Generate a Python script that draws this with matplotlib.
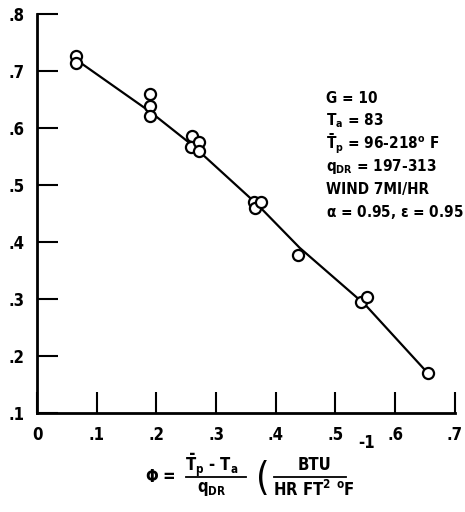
import matplotlib
matplotlib.use("Agg")
import matplotlib.pyplot as plt

# data
phi = [0.065, 0.065, 0.19, 0.19, 0.19, 0.26, 0.258, 0.272, 0.272,
       0.364, 0.366, 0.376, 0.437, 0.543, 0.553, 0.655]
eff = [0.726, 0.714, 0.659, 0.638, 0.621, 0.585, 0.566, 0.575, 0.560,
       0.470, 0.460, 0.470, 0.378, 0.295, 0.303, 0.170]

# faired curve
curve_x = [0.065, 0.19, 0.26, 0.37, 0.44, 0.55, 0.655]
curve_y = [0.720, 0.628, 0.570, 0.465, 0.390, 0.290, 0.170]

xticks = [0, 0.1, 0.2, 0.3, 0.4, 0.5, 0.6, 0.7]
xlabels = ["0", ".1", ".2", ".3", ".4", ".5", ".6", ".7"]
yticks = [0.1, 0.2, 0.3, 0.4, 0.5, 0.6, 0.7, 0.8]
ylabels = [".1", ".2", ".3", ".4", ".5", ".6", ".7", ".8"]

notes = [r"G = 10",
         r"T$_\mathregular{a}$ = 83",
         r"$\mathregular{\bar{T}_p}$ = 96-218$^\mathregular{o}$ F",
         r"q$_\mathregular{DR}$ = 197-313",
         r"WIND 7MI/HR",
         r"$\mathregular{\alpha}$ = 0.95, $\mathregular{\epsilon}$ = 0.95"]

plt.rcParams["font.family"] = ["DejaVu Sans"]
plt.rcParams["font.weight"] = "bold"
plt.rcParams["font.stretch"] = "condensed"
plt.rcParams["mathtext.fontset"] = "custom"
plt.rcParams["mathtext.rm"] = "DejaVu Sans:bold:stretch=condensed"
plt.rcParams["mathtext.it"] = "DejaVu Sans:bold:stretch=condensed"
plt.rcParams["mathtext.bf"] = "DejaVu Sans:bold:stretch=condensed"

W, H = 465, 512
fig = plt.figure(figsize=(W / 100, H / 100), dpi=100)
ax = fig.add_axes([0.0796, 0.193, 0.8984, 0.780])

ax.plot(curve_x, curve_y, color="k", lw=1.6)
ax.plot(phi, eff, "o", ms=8, mfc="white", mec="k", mew=1.6)

ax.set_xlim(0, 0.7)
ax.set_ylim(0.1, 0.8)
ax.set_xticks(xticks)
ax.set_xticklabels(xlabels)
ax.set_yticks(yticks)
ax.set_yticklabels(ylabels)
ax.tick_params(direction="in", length=15, width=1.5, labelsize=12, pad=9)
for s in ["top", "right"]:
    ax.spines[s].set_visible(False)
for s in ["left", "bottom"]:
    ax.spines[s].set_linewidth(2)
    ax.spines[s].set_clip_on(False)

# notes block
for i, t in enumerate(notes):
    ax.text(0.484, 0.652 - i * 0.0399, t, fontsize=11, va="center", ha="left")

ax.text(0.553, 0.048, "-1", fontsize=12, ha="center", va="center")


def ftext(px, py, s, **kw):
    fig.text(px / W, 1 - py / H, s, ha="center", va="center", **kw)


def fline(x0, x1, py):
    fig.add_artist(plt.Line2D([x0 / W, x1 / W], [1 - py / H] * 2,
                              color="k", lw=1.3, transform=fig.transFigure))


# x axis label, built from pieces
ftext(160, 477, r"$\Phi$ =", fontsize=12)
ftext(212, 465, r"$\mathregular{\bar{T}_p}$ - T$_\mathregular{a}$", fontsize=12)
fline(186, 246, 477)
ftext(212, 489, r"q$_\mathregular{DR}$", fontsize=12)
ftext(263, 479, "(", fontsize=28, fontweight="normal")
ftext(314, 465, "BTU", fontsize=12)
fline(274, 346, 477)
ftext(314, 490, r"HR FT$^\mathregular{2}$ $^\mathregular{o}$F", fontsize=12)

fig.savefig("out.png", dpi=100)
